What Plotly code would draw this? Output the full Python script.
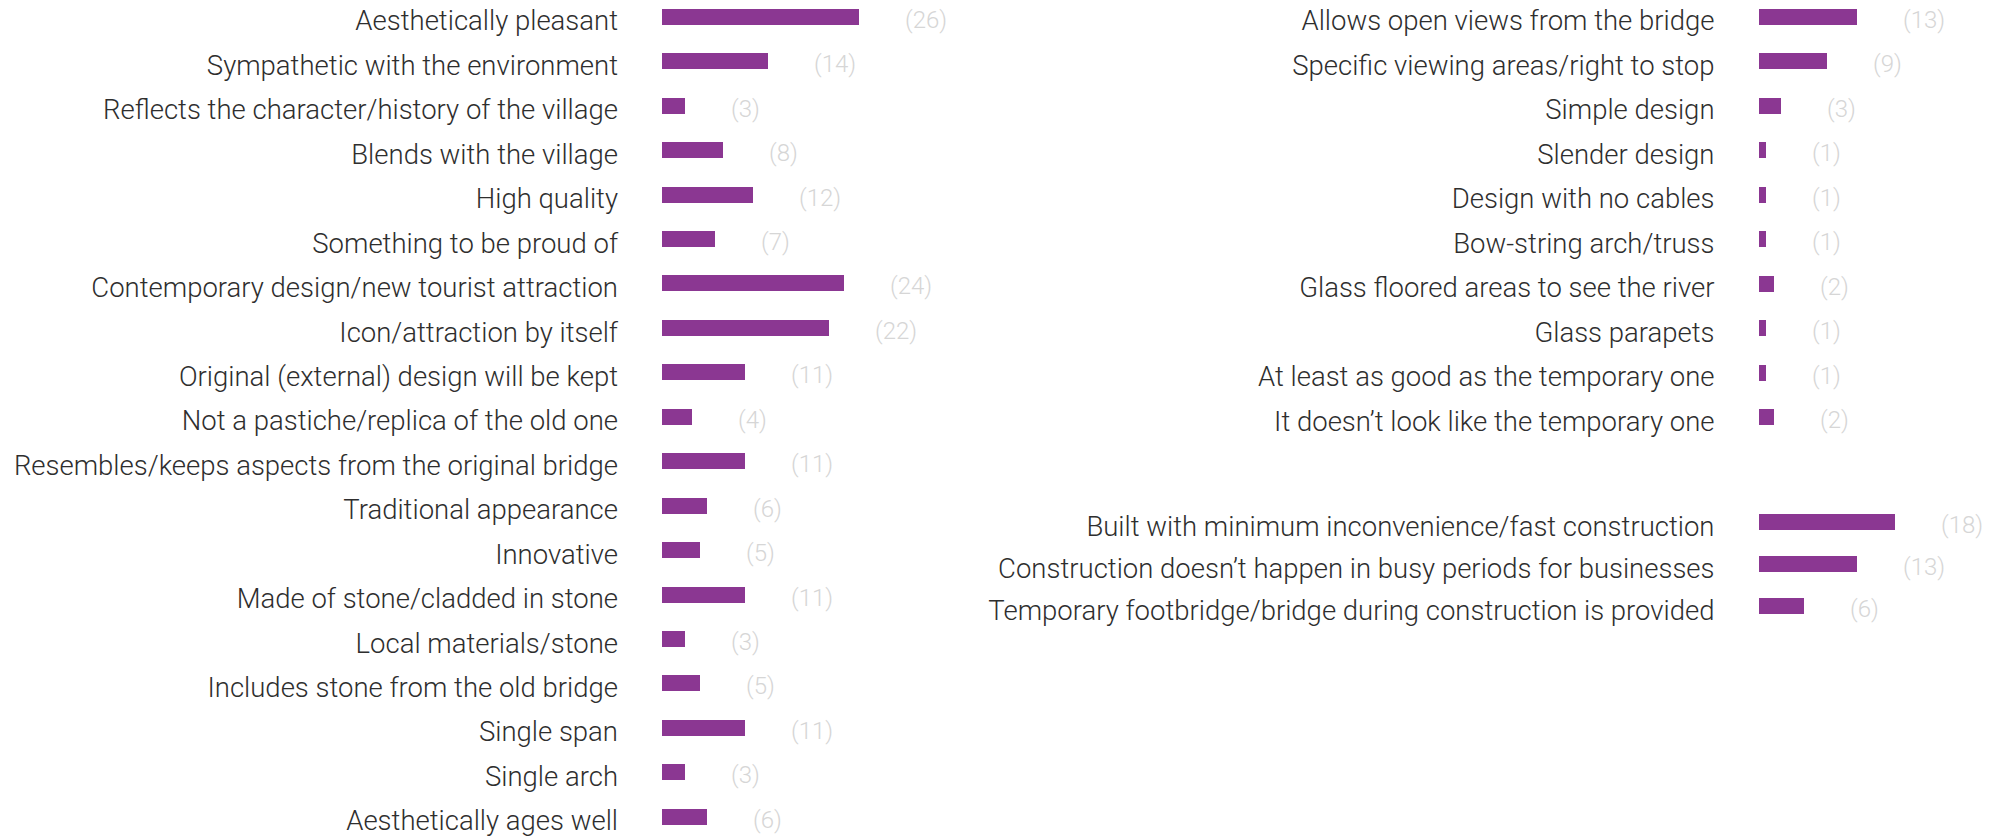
import plotly.graph_objects as go

# ---------------- data ----------------
left_labels = [
    "Aesthetically pleasant",
    "Sympathetic with the environment",
    "Reflects the character/history of the village",
    "Blends with the village",
    "High quality",
    "Something to be proud of",
    "Contemporary design/new tourist attraction",
    "Icon/attraction by itself",
    "Original (external) design will be kept",
    "Not a pastiche/replica of the old one",
    "Resembles/keeps aspects from the original bridge",
    "Traditional appearance",
    "Innovative",
    "Made of stone/cladded in stone",
    "Local materials/stone",
    "Includes stone from the old bridge",
    "Single span",
    "Single arch",
    "Aesthetically ages well",
]
left_values = [26, 14, 3, 8, 12, 7, 24, 22, 11, 4, 11, 6, 5, 11, 3, 5, 11, 3, 6]

right_top_labels = [
    "Allows open views from the bridge",
    "Specific viewing areas/right to stop",
    "Simple design",
    "Slender design",
    "Design with no cables",
    "Bow-string arch/truss",
    "Glass floored areas to see the river",
    "Glass parapets",
    "At least as good as the temporary one",
    "It doesn\u2019t look like the temporary one",
]
right_top_values = [13, 9, 3, 1, 1, 1, 2, 1, 1, 2]

right_bottom_labels = [
    "Built with minimum inconvenience/fast construction",
    "Construction doesn\u2019t happen in busy periods for businesses",
    "Temporary footbridge/bridge during construction is provided",
]
right_bottom_values = [18, 13, 6]

# ---------------- style ----------------
W, H = 2004, 837
BAR = "#8B3792"
LABEL_COL = "#2e2e2e"
VAL_COL = "#d6d6d6"
FONT = "Roboto"
FS = 27.5
VFS = 24
PX_PER_UNIT = 7.57

fig = go.Figure()

groups = [
    (left_labels, left_values, "x", "y", 0.36),
    (right_top_labels, right_top_values, "x2", "y2", 0.36),
    (right_bottom_labels, right_bottom_values, "x3", "y3", 0.38),
]

annotations = []
for labels, values, xa, ya, bw in groups:
    fig.add_trace(go.Bar(
        x=values, y=labels, orientation="h", xaxis=xa, yaxis=ya,
        marker=dict(color=BAR, line=dict(width=0)), width=bw,
        hoverinfo="skip",
    ))
    for lab, v in zip(labels, values):
        annotations.append(dict(
            x=v, y=lab, xref=xa, yref=ya, text=f"({v})", showarrow=False,
            xanchor="left", yanchor="middle", xshift=44, yshift=-3,
            font=dict(family=FONT, size=VFS, color=VAL_COL, weight=300),
        ))

def xax(d0, d1):
    width_px = (d1 - d0) * W
    return dict(domain=[d0, d1], range=[0, width_px / PX_PER_UNIT],
                showgrid=False, zeroline=False, showline=False,
                showticklabels=False, ticks="", fixedrange=True)

def yax(labels, anchor, first_px, pitch):
    top = -first_px / pitch
    bottom = top + H / pitch
    return dict(domain=[0, 1], anchor=anchor, type="category",
                categoryorder="array", categoryarray=labels,
                range=[bottom, top], showgrid=False, zeroline=False,
                showline=False, ticks="", ticklabelstandoff=43,
                ticklabelshift=-4,
                tickfont=dict(family=FONT, size=FS, color=LABEL_COL, weight=300),
                fixedrange=True)

fig.update_layout(
    width=W, height=H,
    margin=dict(l=0, r=0, t=0, b=0),
    paper_bgcolor="white", plot_bgcolor="rgba(0,0,0,0)",
    showlegend=False, bargap=0,
    xaxis=xax(662 / W, 0.52),
    xaxis2=xax(1758.5 / W, 1.0),
    xaxis3=xax(1758.5 / W, 1.0),
    yaxis=yax(left_labels, "x", 16.8, 44.44),
    yaxis2=yax(right_top_labels, "x2", 16.8, 44.47),
    yaxis3=yax(right_bottom_labels, "x3", 522, 42.0),
    annotations=annotations,
)

fig.write_html(
    "out.html",
    config={"displayModeBar": False, "staticPlot": True},
    post_script="document.body.style.margin='0';document.body.style.overflow='hidden';",
)
